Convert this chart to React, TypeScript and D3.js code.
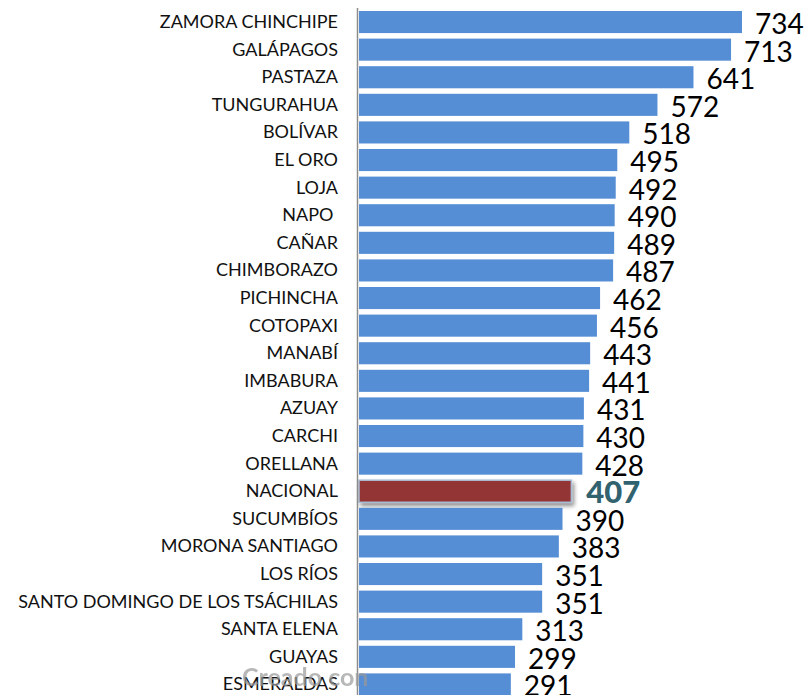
import React from "react";
import * as d3 from "d3";

const categories = [
  "ZAMORA CHINCHIPE", "GALÁPAGOS", "PASTAZA", "TUNGURAHUA", "BOLÍVAR", "EL ORO", "LOJA", "NAPO ",
  "CAÑAR", "CHIMBORAZO", "PICHINCHA", "COTOPAXI", "MANABÍ", "IMBABURA", "AZUAY", "CARCHI",
  "ORELLANA", "NACIONAL", "SUCUMBÍOS", "MORONA SANTIAGO", "LOS RÍOS",
  "SANTO DOMINGO DE LOS TSÁCHILAS", "SANTA ELENA", "GUAYAS", "ESMERALDAS",
];
const values = [734, 713, 641, 572, 518, 495, 492, 490, 489, 487, 462, 456, 443, 441, 431, 430, 428, 407, 390, 383, 351, 351, 313, 299, 291];
const highlight = "NACIONAL";

const W = 807;
const H = 695;

export default function App() {
  const x = d3.scaleLinear().domain([0, 734]).range([359, 742]);
  const step = 27.6;
  const y = d3
    .scaleBand<string>()
    .domain(categories)
    .range([11 - 0.1 * step, 11 - 0.1 * step + 25 * step])
    .paddingInner(0.2)
    .paddingOuter(0.1);
  const bw = y.bandwidth();
  const font = "Lato, 'Open Sans', sans-serif";

  return (
    <svg width={W} height={H} style={{ position: "absolute", left: 0, top: 0, background: "#fff" }}>
      <defs>
        <filter id="sh" x="-10%" y="-50%" width="130%" height="250%">
          <feDropShadow dx="2" dy="3" stdDeviation="2" floodColor="#000" floodOpacity="0.45" />
        </filter>
      </defs>
      {categories.map((c, i) => {
        const v = values[i];
        const isH = c === highlight;
        const y0 = y(c)!;
        return (
          <g key={c}>
            <rect
              x={x(0)}
              y={y0}
              width={x(v) - x(0)}
              height={bw}
              fill={isH ? "#943634" : "#558ED5"}
              stroke={isH ? "#a9bcd6" : "none"}
              strokeWidth={isH ? 1.5 : 0}
              filter={isH ? "url(#sh)" : undefined}
            />
            <text
              x={338}
              y={y0 + bw / 2 + 6}
              textAnchor="end"
              fontFamily={font}
              fontSize={18}
              fill="#111"
              style={{ whiteSpace: "pre" }}
            >
              {c}
            </text>
            <text
              x={x(v) + (isH ? 15 : 13)}
              y={y0 + bw + 1}
              fontFamily={font}
              fontSize={isH ? 31 : 28}
              fontWeight={isH ? 900 : 400}
              fill={isH ? "#31626f" : "#000"}
            >
              {v}
            </text>
          </g>
        );
      })}
      <line x1={357.5} x2={357.5} y1={8} y2={H} stroke="#8c8c8c" strokeWidth={1.5} />
      <text x={242} y={686} fontFamily={font} fontSize={25} fontWeight={700} fill="#9a9a9a" opacity={0.7}>
        Creado con
      </text>
    </svg>
  );
}
